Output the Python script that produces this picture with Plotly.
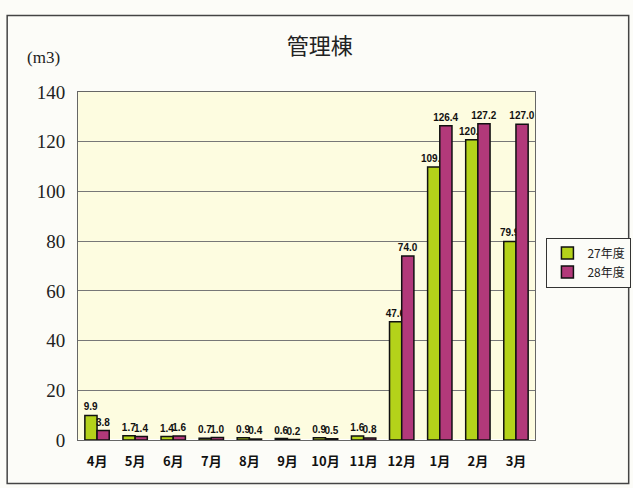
from plotly import graph_objects as go

# 管理棟 月別使用量 (m3)
months = ['4月', '5月', '6月', '7月', '8月', '9月', '10月', '11月', '12月', '1月', '2月', '3月']
h27 = [9.9, 1.7, 1.4, 0.7, 0.9, 0.6, 0.9, 1.6, 47.6, 109.8, 120.8, 79.9]
h28 = [3.8, 1.4, 1.6, 1.0, 0.4, 0.2, 0.5, 0.8, 74.0, 126.4, 127.2, 127.0]
y_ticks = [0, 20, 40, 60, 80, 100, 120, 140]

lbl_font = dict(family='Liberation Sans', size=10, color='#111111')

fig = go.Figure()
fig.add_trace(go.Bar(x=months, y=h27, name='27年度',
	marker=dict(color='#B4D21A', line=dict(color='#111111', width=1.5)),
	text=['<b>%.1f</b>' % v for v in h27], textposition='outside', constraintext='none',
	textfont=lbl_font, cliponaxis=False))
fig.add_trace(go.Bar(x=months, y=h28, name='28年度',
	marker=dict(color='#B2397A', line=dict(color='#111111', width=1.5)),
	text=['<b>%.1f</b>' % v for v in h28], textposition='outside', constraintext='none',
	textfont=lbl_font, cliponaxis=False))

fig.update_layout(
	width=633, height=488,
	margin=dict(l=78, r=98, t=92, b=48, autoexpand=False),
	paper_bgcolor='#FCFCF8', plot_bgcolor='#FDFCE0',
	barmode='group', bargap=0.36, bargroupgap=0.0,
	showlegend=True,
	legend=dict(x=1.025, y=0.51, xanchor='left', yanchor='middle',
		bordercolor='#333333', borderwidth=1, bgcolor='#FCFCF8',
		font=dict(family='Noto Sans CJK JP', size=12, color='#222222'),
		itemwidth=30, tracegroupgap=2),
	title=dict(text='管理棟', x=0.505, xanchor='center', y=0.905, yanchor='middle',
		font=dict(family='Noto Sans CJK JP', size=22, color='#222222')),
	xaxis=dict(tickvals=months, ticktext=['<b>' + m + '</b>' for m in months],
		tickfont=dict(family='Noto Sans CJK JP', size=13, color='#111111'),
		showline=True, linecolor='#666666', mirror=True, ticks='', ticklabelstandoff=9),
	yaxis=dict(range=[0, 140], tickvals=y_ticks,
		tickfont=dict(family='Liberation Serif', size=19, color='#222222'),
		showgrid=True, gridcolor='#777777', gridwidth=1,
		showline=True, linecolor='#666666', mirror=True, ticks='', ticklabelstandoff=8),
	annotations=[dict(text='(m3)', xref='paper', yref='paper', x=-0.116, y=1.10,
		xanchor='left', yanchor='middle', showarrow=False,
		font=dict(family='Liberation Serif', size=17, color='#222222'))],
	shapes=[dict(type='rect', xref='paper', yref='paper', x0=-0.155, x1=1.205, y0=-0.125, y1=1.22,
		line=dict(color='#444444', width=1.5))],
)

fig.write_html('out.html', config={'displayModeBar': False},
	post_script="document.body.style.margin='0';")
